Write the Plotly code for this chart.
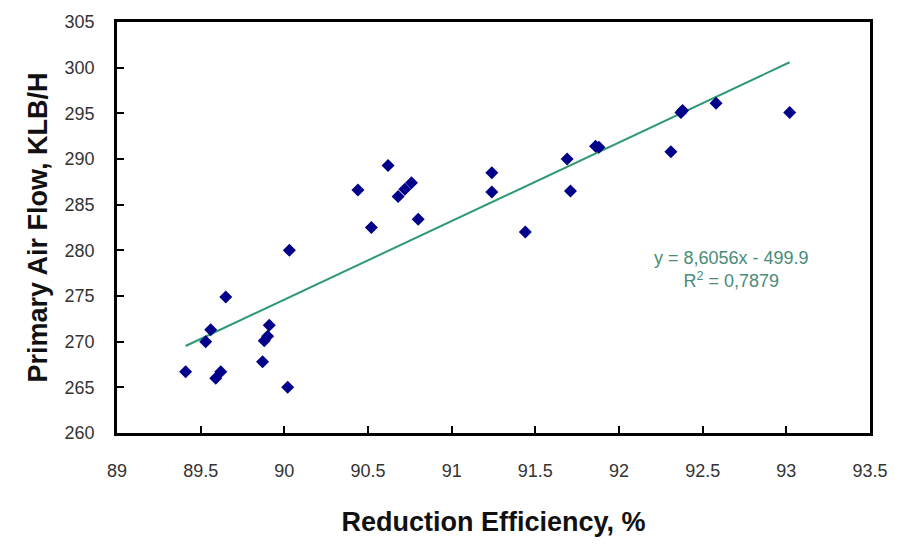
import plotly.graph_objects as go

# Reduction efficiency (%) vs primary air flow (KLB/H)
efficiency = [89.41, 89.53, 89.56, 89.59, 89.62, 89.65, 89.87, 89.88, 89.90, 89.91,
              90.02, 90.03, 90.44, 90.52, 90.62, 90.68, 90.72, 90.76, 90.80, 91.24,
              91.24, 91.44, 91.69, 91.71, 91.86, 91.88, 92.31, 92.37, 92.38, 92.58,
              93.02]
air_flow = [266.7, 270.0, 271.3, 266.0, 266.7, 274.9, 267.8, 270.1, 270.6, 271.8,
            265.0, 280.0, 286.6, 282.5, 289.3, 285.9, 286.7, 287.4, 283.4, 288.5,
            286.4, 282.0, 290.0, 286.5, 291.4, 291.3, 290.8, 295.1, 295.3, 296.1,
            295.1]

# Linear fit reported on the chart
slope = 8.6056
intercept = -499.9
r_squared = "0,7879"
equation_text = "y = 8,6056x - 499.9"

x_ticks = [89, 89.5, 90, 90.5, 91, 91.5, 92, 92.5, 93, 93.5]
y_ticks = [260, 265, 270, 275, 280, 285, 290, 295, 300, 305]

trend_x = [min(efficiency), max(efficiency)]
trend_y = [slope * v + intercept for v in trend_x]

fig = go.Figure()
fig.add_trace(go.Scatter(
    x=trend_x, y=trend_y, mode="lines",
    line=dict(color="#2f9a72", width=2), hoverinfo="skip", showlegend=False,
))
fig.add_trace(go.Scatter(
    x=efficiency, y=air_flow, mode="markers",
    marker=dict(symbol="diamond", size=10, color="#00008b"),
    showlegend=False,
))

fig.add_annotation(
    x=92.67, y=277.9, xref="x", yref="y",
    text=f"{equation_text}<br>R<sup>2</sup> = {r_squared}",
    showarrow=False, align="center",
    font=dict(family="Arial, Liberation Sans", size=18, color="#4a8c78"),
)

tick_font = dict(family="Arial, Liberation Sans", size=18, color="#333333")
title_font = dict(family="Arial, Liberation Sans", size=27, color="#111111")

fig.update_xaxes(
    range=[89, 93.5], tickvals=x_ticks, ticktext=[f"{t:g}" for t in x_ticks],
    showgrid=False, zeroline=False,
    showline=True, linecolor="black", linewidth=2.5, mirror=True,
    ticks="inside", ticklen=7, tickwidth=2, tickcolor="black",
    ticklabelstandoff=20, tickfont=tick_font,
    title=dict(text="<b>Reduction Efficiency, %</b>", font=title_font, standoff=32),
)
fig.update_yaxes(
    range=[260, 305], tickvals=y_ticks, ticktext=[str(t) for t in y_ticks],
    showgrid=False, zeroline=False,
    showline=True, linecolor="black", linewidth=2.5, mirror=True,
    ticks="inside", ticklen=7, tickwidth=2, tickcolor="black",
    ticklabelstandoff=16, tickfont=tick_font,
    title=dict(text="<b>Primary Air Flow, KLB/H</b>", font=title_font, standoff=10),
)

fig.update_layout(
    width=910, height=545,
    margin=dict(l=117, r=40, t=16, b=112),
    paper_bgcolor="white", plot_bgcolor="white",
)

fig.write_html("out.html")
